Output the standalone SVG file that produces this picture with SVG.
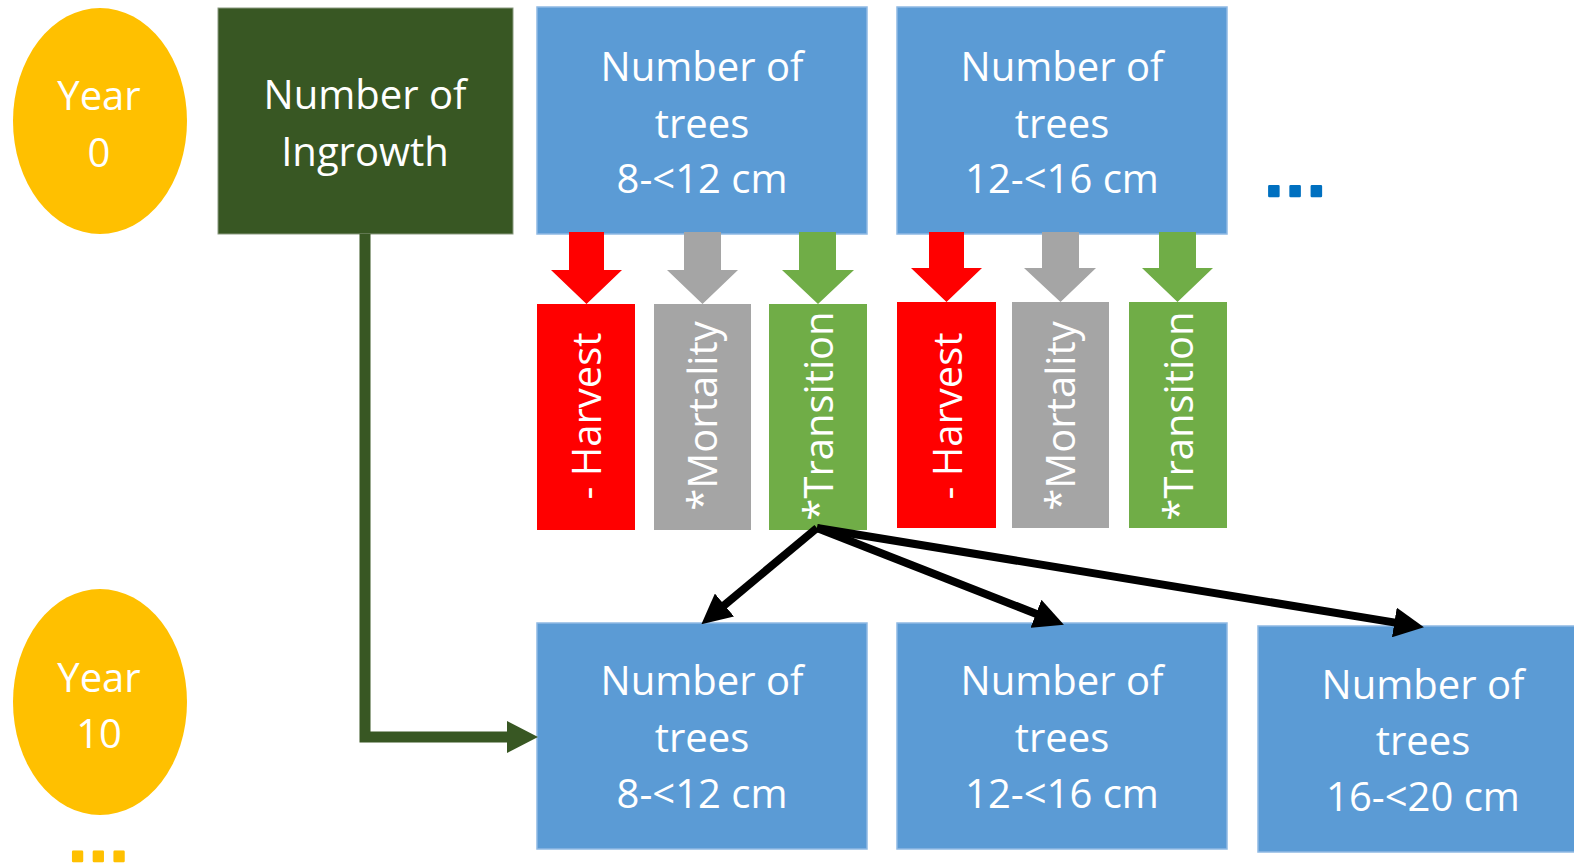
<svg xmlns="http://www.w3.org/2000/svg" width="1574" height="866" viewBox="0 0 1574 866">
<style>
text{font-family:"Open Sans","Liberation Sans",sans-serif;font-size:40px;fill:#fff;text-anchor:middle}
.blue{fill:#5B9BD5;stroke:#8FB9E3;stroke-width:1.5}
.red{fill:#FF0000}
.gray{fill:#A5A5A5}
.grn{fill:#70AD47}
.yel{fill:#FFC000}
.dots{font-family:"Liberation Sans",sans-serif;font-weight:bold;text-anchor:start;stroke-width:2.5;stroke-linejoin:round}
.blk{stroke:#000;stroke-width:8;fill:none}
</style>
<defs>
<marker id="ah" viewBox="0 0 30 30" refX="4" refY="15" markerUnits="userSpaceOnUse" markerWidth="30" markerHeight="30" orient="auto">
<path d="M0,0 L30,15 L0,30 z" fill="#000"/>
</marker>
</defs>

<g id="year0"><ellipse class="yel" cx="100" cy="121" rx="87" ry="113"/><text x="99" y="110">Year</text><text x="99" y="167">0</text></g>
<g id="year10"><ellipse class="yel" cx="100" cy="702" rx="87" ry="113"/><text x="99" y="692">Year</text><text x="99" y="748">10</text></g>
<text class="dots" x="69" y="861" style="fill:#FFC000;stroke:#FFC000;font-size:62px;letter-spacing:3.5px">...</text>

<g id="ingrowth"><rect x="218" y="8" width="295" height="226" fill="#385723" stroke="#8A9A80" stroke-width="1"/><text x="365" y="109">Number of</text><text x="365" y="166">Ingrowth</text></g>

<g id="top1"><rect class="blue" x="537" y="7" width="330" height="227"/><text x="702" y="81">Number of</text><text x="702" y="138">trees</text><text x="702" y="193">8-&lt;12 cm</text></g>
<g id="top2"><rect class="blue" x="897" y="7" width="330" height="227"/><text x="1062" y="81">Number of</text><text x="1062" y="138">trees</text><text x="1062" y="193">12-&lt;16 cm</text></g>
<text class="dots" x="1265" y="196" style="fill:#0070C0;stroke:#0070C0;font-size:64px;letter-spacing:3.5px">...</text>

<g id="harvest1"><path class="red" d="M569,232 H604 V270 H622 L586.5,304 L551,270 H569 Z"/><rect class="red" x="537" y="304" width="98" height="226"/><text transform="translate(586,416) rotate(-90)" x="0" y="15">- Harvest</text></g>
<g id="mortality1"><path class="gray" d="M684,232 H721 V270 H738 L702.5,304 L667,270 H684 Z"/><rect class="gray" x="654" y="304" width="97" height="226"/><text transform="translate(702.5,416) rotate(-90)" x="0" y="14">*Mortality</text></g>
<g id="transition1"><path class="grn" d="M799,232 H836 V270 H854 L818,304 L782,270 H799 Z"/><rect class="grn" x="769" y="304" width="98" height="226"/><text transform="translate(818,416) rotate(-90)" x="0" y="15">*Transition</text></g>

<g id="harvest2"><path class="red" d="M929,232 H964 V268 H982 L946.5,302 L911,268 H929 Z"/><rect class="red" x="897" y="302" width="99" height="226"/><text transform="translate(946.5,416) rotate(-90)" x="0" y="15">- Harvest</text></g>
<g id="mortality2"><path class="gray" d="M1042,232 H1079 V268 H1096 L1060.5,302 L1024,268 H1042 Z"/><rect class="gray" x="1012" y="302" width="97" height="226"/><text transform="translate(1060.5,416) rotate(-90)" x="0" y="14">*Mortality</text></g>
<g id="transition2"><path class="grn" d="M1159,232 H1196 V268 H1213 L1177.5,302 L1142,268 H1159 Z"/><rect class="grn" x="1129" y="302" width="98" height="226"/><text transform="translate(1178,416) rotate(-90)" x="0" y="15">*Transition</text></g>

<g id="bot1"><rect class="blue" x="537" y="623" width="330" height="226"/><text x="702" y="695">Number of</text><text x="702" y="752">trees</text><text x="702" y="808">8-&lt;12 cm</text></g>
<g id="bot2"><rect class="blue" x="897" y="623" width="330" height="226"/><text x="1062" y="695">Number of</text><text x="1062" y="752">trees</text><text x="1062" y="808">12-&lt;16 cm</text></g>
<g id="bot3"><rect class="blue" x="1258" y="626" width="330" height="226"/><text x="1423" y="699">Number of</text><text x="1423" y="755">trees</text><text x="1423" y="811">16-&lt;20 cm</text></g>

<g id="connectors">
<path d="M365,234 V737 H509" fill="none" stroke="#385723" stroke-width="11"/>
<path d="M507,721 L538,737 L507,753 Z" fill="#385723"/>
<line class="blk" x1="817" y1="528" x2="721.4" y2="607.6" marker-end="url(#ah)"/>
<line class="blk" x1="817" y1="528" x2="1039.7" y2="615.2" marker-end="url(#ah)"/>
<line class="blk" x1="817" y1="528" x2="1398.3" y2="623.1" marker-end="url(#ah)"/>
</g>
</svg>
